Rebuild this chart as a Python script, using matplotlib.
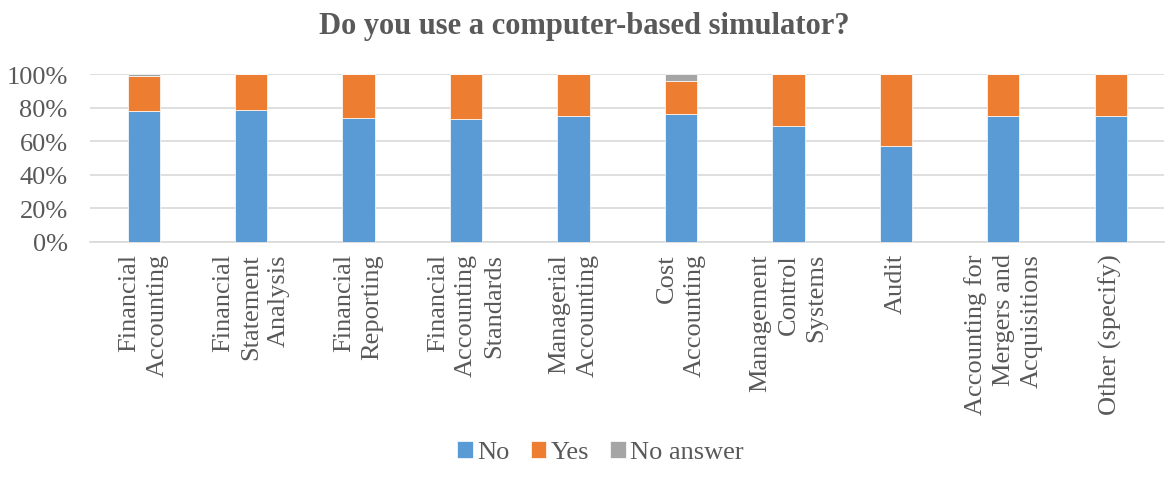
import matplotlib
matplotlib.use("Agg")
import matplotlib.pyplot as plt
import numpy as np

categories = ["Financial\nAccounting", "Financial\nStatement\nAnalysis", "Financial\nReporting",
              "Financial\nAccounting\nStandards", "Managerial\nAccounting", "Cost\nAccounting",
              "Management\nControl\nSystems", "Audit", "Accounting for\nMergers and\nAcquisitions",
              "Other (specify)"]
no_vals = [78.2, 78.4, 73.6, 73.2, 74.8, 76.0, 68.8, 56.9, 74.8, 74.8]
yes_vals = [20.4, 21.6, 26.4, 26.8, 25.2, 20.0, 31.2, 43.1, 25.2, 25.2]
na_vals = [1.4, 0, 0, 0, 0, 4.0, 0, 0, 0, 0]
series_names = ["No", "Yes", "No answer"]
colors = ["#5B9BD5", "#ED7D31", "#A5A5A5"]

plt.rcParams['font.family'] = ['Liberation Serif', 'DejaVu Serif']
fig = plt.figure(figsize=(11.68, 4.81), dpi=100)
ax = fig.add_axes([0.077, 0.495, 0.920, 0.349])
x = np.arange(len(categories))
w = 0.3
bottom = np.zeros(len(categories))
for vals, name, c in zip([no_vals, yes_vals, na_vals], series_names, colors):
    v = np.array(vals)
    ax.bar(x, v, w, bottom=bottom, color=c, label=name, edgecolor='white', linewidth=0.5, zorder=3)
    bottom += v

ax.set_xlim(-0.5, len(categories) - 0.5)
ax.set_ylim(0, 100)
ax.set_yticks(np.arange(0, 101, 20))
ax.set_yticklabels([f"{t}%" for t in range(0, 101, 20)], fontsize=19, color='#595959')
ax.yaxis.grid(True, color='#d9d9d9', linewidth=1.2, zorder=0)
for s in ['top', 'right', 'left']:
    ax.spines[s].set_visible(False)
ax.spines['bottom'].set_color('#d9d9d9')
ax.spines['bottom'].set_linewidth(1.2)
ax.tick_params(axis='y', length=0, pad=16)
ax.tick_params(axis='x', length=0, pad=8)
ax.set_xticks(x)
ax.set_xticklabels(categories, rotation=90, fontsize=19, color='#595959',
                   ha='center', va='top', multialignment='right', linespacing=1.35)

fig.suptitle("Do you use a computer-based simulator?", fontsize=22, fontweight='bold',
             color='#595959', y=0.975)
fig.legend(loc='lower center', ncol=3, frameon=False, fontsize=19,
           bbox_to_anchor=(0.514, -0.015), handlelength=0.6, handleheight=0.6,
           handletextpad=0.15, columnspacing=0.8, labelcolor='#595959')
fig.savefig("out.png", dpi=100)
